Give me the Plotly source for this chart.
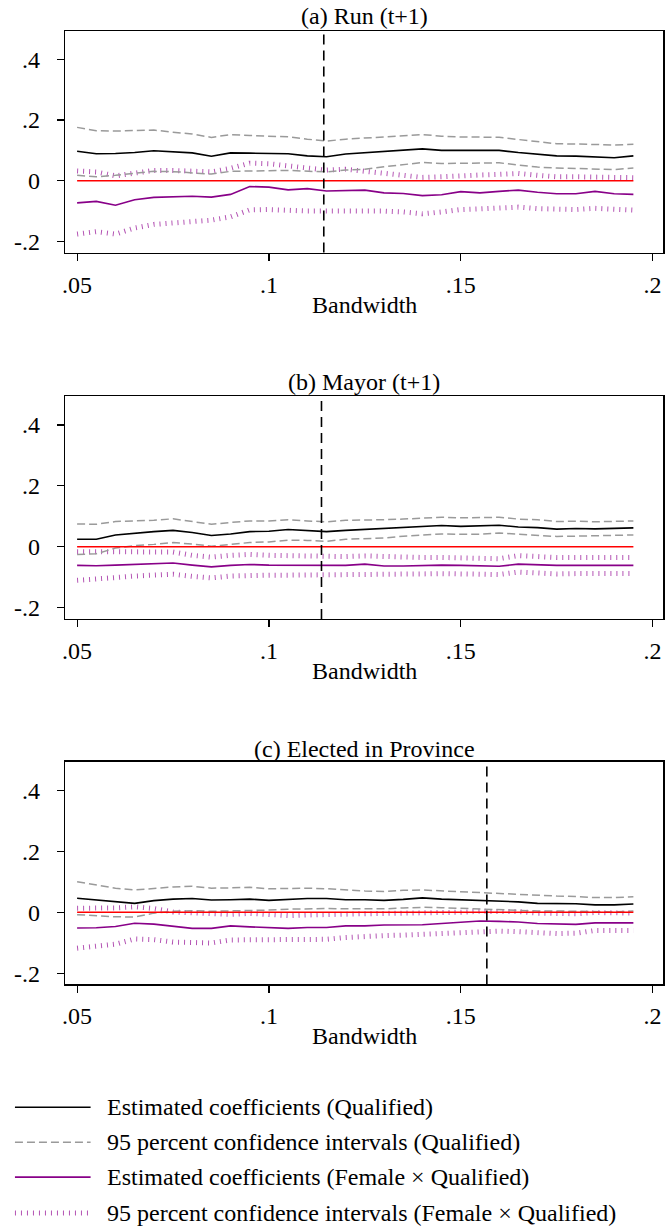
import plotly.graph_objects as go

# ---------------- data ----------------
bandwidth = [0.050, 0.055, 0.060, 0.065, 0.070, 0.075, 0.080, 0.085, 0.090, 0.095,
             0.100, 0.105, 0.110, 0.115, 0.120, 0.125, 0.130, 0.135, 0.140, 0.145,
             0.150, 0.155, 0.160, 0.165, 0.170, 0.175, 0.180, 0.185, 0.190, 0.195]

panel_titles = ["(a) Run (t+1)", "(b) Mayor (t+1)", "(c) Elected in Province"]
optimal_bw = [0.1143, 0.1137, 0.1568]

# Panel (a)
a_coef_q = [0.097, 0.089, 0.090, 0.093, 0.099, 0.095, 0.092, 0.081, 0.092, 0.091,
            0.090, 0.089, 0.082, 0.079, 0.088, 0.092, 0.096, 0.100, 0.105, 0.100,
            0.100, 0.100, 0.100, 0.093, 0.087, 0.082, 0.081, 0.079, 0.076, 0.082]
a_hi_q = [0.176, 0.165, 0.164, 0.165, 0.167, 0.160, 0.154, 0.143, 0.152, 0.149,
          0.148, 0.145, 0.137, 0.131, 0.137, 0.141, 0.145, 0.147, 0.152, 0.147,
          0.144, 0.144, 0.143, 0.136, 0.129, 0.122, 0.121, 0.119, 0.118, 0.120]
a_lo_q = [0.018, 0.013, 0.018, 0.025, 0.031, 0.030, 0.027, 0.022, 0.031, 0.033,
          0.033, 0.034, 0.031, 0.029, 0.035, 0.038, 0.046, 0.054, 0.060, 0.057,
          0.057, 0.058, 0.059, 0.052, 0.045, 0.042, 0.041, 0.038, 0.037, 0.042]
a_coef_f = [-0.073, -0.068, -0.081, -0.063, -0.055, -0.054, -0.051, -0.054, -0.045, -0.019,
            -0.021, -0.030, -0.026, -0.034, -0.032, -0.031, -0.040, -0.042, -0.049, -0.046,
            -0.036, -0.040, -0.035, -0.031, -0.038, -0.043, -0.043, -0.035, -0.043, -0.045]
a_hi_f = [0.032, 0.029, 0.016, 0.026, 0.034, 0.034, 0.033, 0.029, 0.041, 0.058,
          0.056, 0.048, 0.044, 0.035, 0.038, 0.032, 0.024, 0.020, 0.011, 0.013,
          0.018, 0.019, 0.021, 0.024, 0.018, 0.013, 0.013, 0.012, 0.009, 0.010]
a_lo_f = [-0.176, -0.168, -0.176, -0.156, -0.144, -0.138, -0.133, -0.130, -0.119, -0.096,
          -0.095, -0.099, -0.100, -0.100, -0.099, -0.098, -0.100, -0.103, -0.109, -0.103,
          -0.095, -0.093, -0.090, -0.087, -0.092, -0.095, -0.095, -0.091, -0.093, -0.097]

# Panel (b)
b_coef_q = [0.025, 0.025, 0.039, 0.045, 0.050, 0.054, 0.047, 0.037, 0.042, 0.050,
            0.051, 0.057, 0.054, 0.050, 0.054, 0.057, 0.059, 0.062, 0.067, 0.070,
            0.067, 0.068, 0.071, 0.065, 0.063, 0.058, 0.060, 0.059, 0.060, 0.062]
b_hi_q = [0.075, 0.074, 0.083, 0.084, 0.087, 0.092, 0.084, 0.074, 0.080, 0.085,
          0.085, 0.089, 0.085, 0.082, 0.087, 0.087, 0.089, 0.091, 0.093, 0.097,
          0.095, 0.095, 0.097, 0.091, 0.089, 0.083, 0.084, 0.082, 0.083, 0.085]
b_lo_q = [-0.025, -0.023, -0.004, 0.004, 0.008, 0.014, 0.009, 0.002, 0.008, 0.014,
          0.016, 0.022, 0.021, 0.018, 0.025, 0.027, 0.029, 0.035, 0.039, 0.042,
          0.041, 0.041, 0.045, 0.041, 0.038, 0.034, 0.035, 0.036, 0.037, 0.039]
b_coef_f = [-0.061, -0.062, -0.060, -0.058, -0.055, -0.053, -0.060, -0.066, -0.061, -0.058,
            -0.060, -0.060, -0.061, -0.062, -0.061, -0.057, -0.063, -0.063, -0.061, -0.060,
            -0.061, -0.063, -0.064, -0.057, -0.060, -0.061, -0.061, -0.061, -0.061, -0.061]
b_hi_f = [-0.016, -0.017, -0.017, -0.018, -0.017, -0.017, -0.028, -0.034, -0.028, -0.025,
          -0.028, -0.029, -0.032, -0.033, -0.032, -0.030, -0.033, -0.035, -0.035, -0.035,
          -0.035, -0.038, -0.039, -0.029, -0.034, -0.035, -0.035, -0.034, -0.035, -0.035]
b_lo_f = [-0.110, -0.107, -0.101, -0.096, -0.093, -0.090, -0.097, -0.102, -0.096, -0.093,
          -0.093, -0.093, -0.093, -0.093, -0.093, -0.091, -0.091, -0.091, -0.089, -0.088,
          -0.089, -0.091, -0.091, -0.083, -0.087, -0.089, -0.088, -0.087, -0.087, -0.088]

# Panel (c)
c_coef_q = [0.046, 0.041, 0.035, 0.029, 0.038, 0.043, 0.045, 0.040, 0.041, 0.043,
            0.039, 0.043, 0.045, 0.045, 0.041, 0.041, 0.039, 0.042, 0.047, 0.043,
            0.041, 0.040, 0.038, 0.034, 0.029, 0.028, 0.028, 0.024, 0.024, 0.027]
c_hi_q = [0.100, 0.090, 0.079, 0.073, 0.079, 0.083, 0.085, 0.079, 0.080, 0.082,
          0.077, 0.079, 0.079, 0.077, 0.073, 0.070, 0.068, 0.072, 0.073, 0.070,
          0.067, 0.065, 0.063, 0.059, 0.055, 0.053, 0.052, 0.048, 0.048, 0.051]
c_lo_q = [-0.008, -0.012, -0.015, -0.016, -0.003, 0.003, 0.005, 0.003, 0.004, 0.007,
          0.007, 0.010, 0.012, 0.012, 0.011, 0.011, 0.011, 0.014, 0.016, 0.015,
          0.013, 0.011, 0.009, 0.005, 0.004, 0.004, 0.003, 0.001, 0.001, 0.004]
c_coef_f = [-0.052, -0.051, -0.047, -0.036, -0.039, -0.047, -0.053, -0.053, -0.045, -0.048,
            -0.051, -0.053, -0.050, -0.050, -0.045, -0.045, -0.042, -0.041, -0.041, -0.037,
            -0.033, -0.029, -0.030, -0.032, -0.037, -0.039, -0.040, -0.035, -0.035, -0.035]
c_hi_f = [0.013, 0.012, 0.014, 0.018, 0.012, 0.001, -0.003, -0.005, -0.007, -0.004,
          -0.009, -0.011, -0.009, -0.009, -0.007, -0.005, -0.004, -0.004, -0.003, -0.001,
          0.000, 0.003, 0.004, 0.002, -0.003, -0.004, -0.005, -0.001, 0.000, -0.003]
c_lo_f = [-0.118, -0.113, -0.105, -0.088, -0.090, -0.098, -0.100, -0.101, -0.091, -0.091,
          -0.093, -0.091, -0.090, -0.089, -0.083, -0.082, -0.077, -0.075, -0.073, -0.070,
          -0.067, -0.063, -0.062, -0.064, -0.068, -0.070, -0.069, -0.060, -0.060, -0.060]

zero_line = [0.0] * len(bandwidth)

x_tickvals = [0.05, 0.10, 0.15, 0.20]
x_ticktext = [".05", ".1", ".15", ".2"]
y_tickvals = [0.4, 0.2, 0.0, -0.2]
y_ticktext = [".4", ".2", "0", "-.2"]

legend_labels = ["Estimated coefficients (Qualified)",
                 "95 percent confidence intervals (Qualified)",
                 "Estimated coefficients (Female \u00d7 Qualified)",
                 "95 percent confidence intervals (Female \u00d7 Qualified)"]

panels = [
    (a_coef_q, a_hi_q, a_lo_q, a_coef_f, a_hi_f, a_lo_f),
    (b_coef_q, b_hi_q, b_lo_q, b_coef_f, b_hi_f, b_lo_f),
    (c_coef_q, c_hi_q, c_lo_q, c_coef_f, c_hi_f, c_lo_f),
]

# ---------------- styling / layout ----------------
W, H = 665, 1230
FONT = "Liberation Serif"
FS = 24


def fy(px):
    """pixel (from top) -> paper fraction"""
    return 1 - px / H


def fx(px):
    return px / W


BLACK = dict(color="black", width=1.6)
GREY = dict(color="#9a9a9a", width=1.5, dash="8px,4px")
PURPLE = dict(color="#880088", width=1.6)
PURPLE_DOT = dict(color="rgba(160,40,160,0.8)", width=5, dash="1px,5px")
RED = dict(color="#ff0000", width=1.6)

# panel plot-area pixel positions (top, bottom)
boxes = [(31, 253), (397, 620), (763, 986)]
title_y = [16, 383, 750]
x_left, x_right = 62.5, 663.3

fig = go.Figure()
shapes = []
annotations = []

for i, (coef_q, hi_q, lo_q, coef_f, hi_f, lo_f) in enumerate(panels):
    xa = "x" if i == 0 else f"x{i+1}"
    ya = "y" if i == 0 else f"y{i+1}"
    series = [
        (hi_f, PURPLE_DOT), (lo_f, PURPLE_DOT),
        (hi_q, GREY), (lo_q, GREY),
        (zero_line, RED),
        (coef_f, PURPLE), (coef_q, BLACK),
    ]
    for vals, style in series:
        fig.add_trace(go.Scatter(x=bandwidth, y=vals, mode="lines", line=style,
                                 xaxis=xa, yaxis=ya, showlegend=False,
                                 hoverinfo="skip"))
    top, bot = boxes[i]
    axis_common = dict(showline=True, mirror=True, linecolor="black", linewidth=1.3,
                       showgrid=False, zeroline=False, ticks="outside", ticklen=7,
                       tickwidth=1.2, tickcolor="black",
                       tickfont=dict(family=FONT, size=FS, color="black"))
    fig.update_layout(**{
        ("xaxis" if i == 0 else f"xaxis{i+1}"): dict(
            axis_common, domain=[fx(x_left), fx(x_right)], anchor=ya,
            range=[0.0469, 0.2028], tickvals=x_tickvals, ticktext=x_ticktext,
            ticklabelstandoff=3),
        ("yaxis" if i == 0 else f"yaxis{i+1}"): dict(
            axis_common, domain=[fy(bot), fy(top)], anchor=xa,
            range=[-0.237, 0.494], tickvals=y_tickvals, ticktext=y_ticktext,
            ticklabelstandoff=12),
    })
    # optimal bandwidth marker
    shapes.append(dict(type="line", xref=xa, yref=f"{ya} domain",
                       x0=optimal_bw[i], x1=optimal_bw[i], y0=0, y1=1,
                       line=dict(color="black", width=1.6, dash="10px,6px")))
    annotations.append(dict(text=panel_titles[i], xref="paper", yref="paper",
                            x=fx((x_left + x_right) / 2), y=fy(title_y[i]),
                            xanchor="center", yanchor="middle", showarrow=False,
                            font=dict(family=FONT, size=FS, color="black")))
    annotations.append(dict(text="Bandwidth", xref="paper", yref="paper",
                            x=fx((x_left + x_right) / 2), y=fy(bot + 52),
                            xanchor="center", yanchor="middle", showarrow=False,
                            font=dict(family=FONT, size=FS, color="black")))

# legend (drawn manually to mimic the long Stata key samples)
legend_rows = [1109, 1144, 1179, 1215]
legend_styles = [BLACK, GREY, PURPLE, PURPLE_DOT]
for row_y, style, label in zip(legend_rows, legend_styles, legend_labels):
    shapes.append(dict(type="line", xref="paper", yref="paper",
                       x0=fx(12), x1=fx(88), y0=fy(row_y), y1=fy(row_y),
                       line=style))
    annotations.append(dict(text=label, xref="paper", yref="paper",
                            x=fx(102), y=fy(row_y), xanchor="left", yanchor="middle",
                            showarrow=False,
                            font=dict(family=FONT, size=FS, color="black")))

fig.update_layout(width=W, height=H, margin=dict(l=0, r=0, t=0, b=0),
                  paper_bgcolor="white", plot_bgcolor="white",
                  shapes=shapes, annotations=annotations, showlegend=False,
                  hovermode=False,
                  font=dict(family=FONT, size=FS, color="black"))

# remove the page's default body margin so the figure fills the window exactly
fig.write_html("out.html",
               config={"displayModeBar": False, "staticPlot": True},
               post_script="document.body.style.margin='0';"
                           "document.body.style.overflow='hidden';")
